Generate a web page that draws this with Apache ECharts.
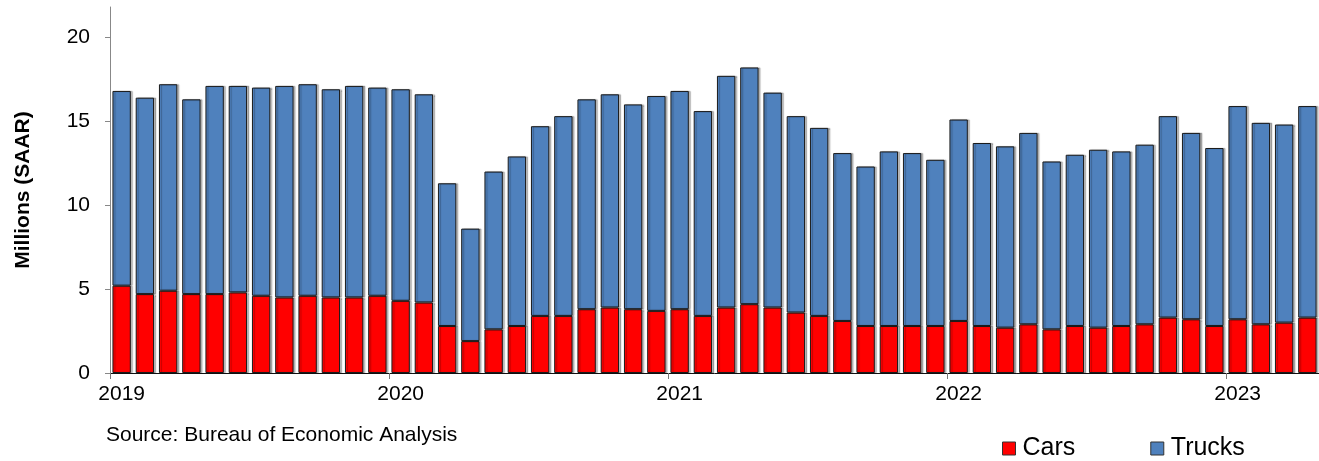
<!DOCTYPE html>
<html>
<head>
<meta charset="utf-8">
<title>Light Vehicle Sales</title>
<script src="https://cdn.jsdelivr.net/npm/echarts@6/dist/echarts.min.js"></script>
<style>
  html, body { margin: 0; padding: 0; background: #fff; }
  #chart { width: 1319px; height: 461px; }
</style>
</head>
<body>
<div id="chart"></div>
<script>
// Monthly light-vehicle sales, Jan 2019 – Apr 2023, millions (SAAR)
const years = [2019, 2020, 2021, 2022, 2023];
const monthsInLastYear = 4;

const cars = [
  5.2, 4.7, 4.9, 4.7, 4.7, 4.8, 4.6, 4.5, 4.6, 4.5, 4.5, 4.6,
  4.3, 4.2, 2.8, 1.9, 2.6, 2.8, 3.4, 3.4, 3.8, 3.9, 3.8, 3.7,
  3.8, 3.4, 3.9, 4.1, 3.9, 3.6, 3.4, 3.1, 2.8, 2.8, 2.8, 2.8,
  3.1, 2.8, 2.7, 2.9, 2.6, 2.8, 2.7, 2.8, 2.9, 3.3, 3.2, 2.8,
  3.2, 2.9, 3.0, 3.3
];

const trucks = [
  11.6, 11.7, 12.3, 11.6, 12.4, 12.3, 12.4, 12.6, 12.6, 12.4, 12.6, 12.4,
  12.6, 12.4, 8.5, 6.7, 9.4, 10.1, 11.3, 11.9, 12.5, 12.7, 12.2, 12.8,
  13.0, 12.2, 13.8, 14.1, 12.8, 11.7, 11.2, 10.0, 9.5, 10.4, 10.3, 9.9,
  12.0, 10.9, 10.8, 11.4, 10.0, 10.2, 10.6, 10.4, 10.7, 12.0, 11.1, 10.6,
  12.7, 12.0, 11.8, 12.6
];

const yTicks = [0, 5, 10, 15, 20];

// Month categories such as "2019-01"
const months = [];
years.forEach((y, i) => {
  const n = i === years.length - 1 ? monthsInLastYear : 12;
  for (let m = 1; m <= n; m++) months.push(y + '-' + String(m).padStart(2, '0'));
});

const FONT = '"Liberation Sans", Arial, sans-serif';
const isJanuary = (idx) => idx % 12 === 0;

const barStyle = (color) => ({
  color: color,
  borderColor: '#1a1a1a',
  borderWidth: 1,
  shadowColor: 'rgba(0,0,0,0.25)',
  shadowOffsetX: 2,
  shadowOffsetY: 0,
  shadowBlur: 1
});

const chart = echarts.init(document.getElementById('chart'), null, { renderer: 'canvas' });

chart.setOption({
  animation: false,
  backgroundColor: '#ffffff',
  textStyle: { fontFamily: FONT },
  grid: { left: 110, right: 0, top: 7, bottom: 88, containLabel: false },
  legend: {
    data: ['Cars', 'Trucks'],
    left: 997,
    top: 431,
    itemWidth: 13,
    itemHeight: 13,
    itemGap: 75,
    icon: 'rect',
    textStyle: { fontFamily: FONT, fontSize: 25, color: '#000', padding: [0, 0, 0, 2] },
    itemStyle: { borderColor: '#333', borderWidth: 1 }
  },
  xAxis: {
    type: 'category',
    data: months,
    boundaryGap: true,
    axisLine: { lineStyle: { color: '#111', width: 1 } },
    axisTick: {
      show: true,
      alignWithLabel: false,
      interval: (idx) => isJanuary(idx),
      length: 6,
      lineStyle: { color: '#777' }
    },
    axisLabel: {
      interval: (idx) => isJanuary(idx),
      formatter: (v) => v.slice(0, 4),
      fontFamily: FONT,
      fontSize: 21,
      color: '#000',
      margin: 11
    },
    splitLine: { show: false }
  },
  yAxis: {
    type: 'value',
    min: 0,
    max: 21.8,
    interval: 5,
    name: 'Millions (SAAR)',
    nameLocation: 'middle',
    nameGap: 76,
    nameRotate: 90,
    nameTextStyle: { fontFamily: FONT, fontSize: 21, fontWeight: 'bold', color: '#000' },
    axisLine: { show: true, lineStyle: { color: '#888', width: 1 } },
    axisTick: { show: true, length: 5, inside: false, customValues: yTicks, lineStyle: { color: '#888' } },
    axisLabel: { customValues: yTicks, fontFamily: FONT, fontSize: 21, color: '#000', margin: 20 },
    splitLine: { show: false }
  },
  graphic: [{
    type: 'text',
    left: 106,
    top: 425,
    style: { text: 'Source: Bureau of Economic Analysis', fontFamily: FONT, fontSize: 21, fill: '#000' }
  }],
  series: [
    {
      name: 'Cars',
      type: 'bar',
      stack: 'sales',
      data: cars,
      barCategoryGap: '21%',
      itemStyle: barStyle('#ff0000')
    },
    {
      name: 'Trucks',
      type: 'bar',
      stack: 'sales',
      data: trucks,
      barCategoryGap: '21%',
      itemStyle: barStyle('#4f81bd')
    }
  ]
});
</script>
</body>
</html>
